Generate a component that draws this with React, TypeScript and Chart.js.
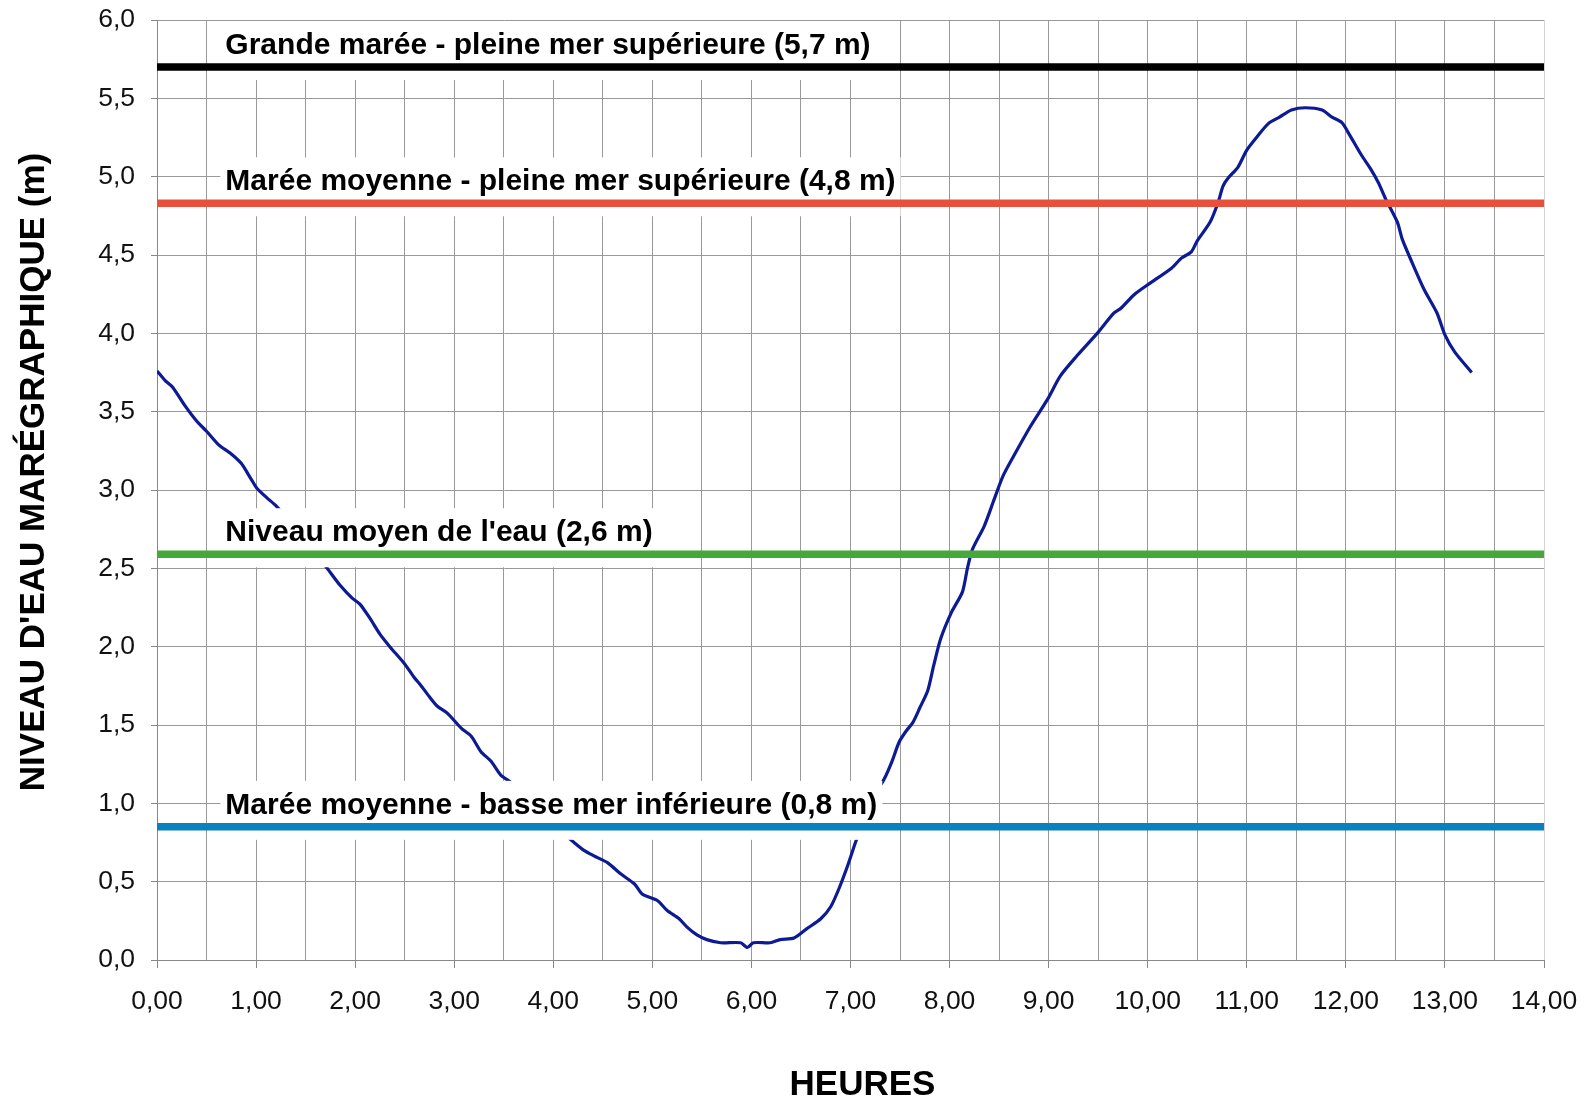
import React, { useEffect, useRef } from 'react';
import { Chart, registerables } from 'chart.js';

Chart.register(...registerables);

// ---- Data ----
const hours = [
  0.0, 0.08, 0.16, 0.28, 0.4, 0.5, 0.62, 0.75, 0.85, 0.95, 1.01, 1.11, 1.2, 1.3, 1.4, 1.5, 1.6,
  1.73, 1.85, 1.97, 2.05, 2.15, 2.25, 2.35, 2.5, 2.6, 2.66, 2.75, 2.83, 2.93, 3.07, 3.17, 3.27,
  3.37, 3.47, 3.57, 3.7, 3.8, 3.9, 4.0, 4.1, 4.21, 4.31, 4.41, 4.55, 4.68, 4.82, 4.9, 5.05,
  5.15, 5.27, 5.35, 5.45, 5.55, 5.69, 5.89, 5.96, 6.02, 6.19, 6.29, 6.43, 6.56, 6.7, 6.8, 6.88,
  6.97, 7.05, 7.15, 7.25, 7.34, 7.42, 7.49, 7.56, 7.63, 7.7, 7.78, 7.84, 7.91, 8.02, 8.13, 8.18,
  8.23, 8.35, 8.45, 8.54, 8.65, 8.82, 8.99, 9.12, 9.29, 9.49, 9.66, 9.73, 9.86, 10.0, 10.24, 10.34,
  10.44, 10.5, 10.63, 10.71, 10.76, 10.81, 10.91, 11.0, 11.11, 11.22, 11.33, 11.45, 11.59, 11.76,
  11.86, 11.96, 12.03, 12.16, 12.25, 12.33, 12.4, 12.52, 12.57, 12.67, 12.79, 12.92, 13.0, 13.1,
  13.27,
];
const waterLevel = [
  3.76, 3.7, 3.655, 3.54, 3.44, 3.375, 3.29, 3.23, 3.17, 3.07, 3.01, 2.95, 2.9, 2.83, 2.76, 2.68, 2.6,
  2.49, 2.39, 2.31, 2.27, 2.18, 2.08, 2.0, 1.89, 1.8, 1.756, 1.68, 1.62, 1.576, 1.48, 1.43, 1.33,
  1.27, 1.18, 1.135, 1.06, 1.0, 0.94, 0.87, 0.81, 0.75, 0.7, 0.665, 0.62, 0.55, 0.485, 0.42, 0.38,
  0.316, 0.263, 0.21, 0.16, 0.13, 0.11, 0.11, 0.08, 0.11, 0.11, 0.13, 0.14, 0.2, 0.263, 0.34, 0.45,
  0.6, 0.75, 0.92, 1.06, 1.155, 1.27, 1.39, 1.46, 1.517, 1.61, 1.72, 1.88, 2.05, 2.22, 2.35, 2.5,
  2.62, 2.77, 2.94, 3.09, 3.22, 3.41, 3.58, 3.73, 3.86, 4.0, 4.13, 4.16, 4.245, 4.31, 4.416, 4.48,
  4.52, 4.59, 4.71, 4.835, 4.94, 4.99, 5.06, 5.17, 5.26, 5.34, 5.38, 5.425, 5.44, 5.425,
  5.38, 5.345, 5.275, 5.135, 5.05, 4.96, 4.86, 4.71, 4.6, 4.45, 4.28, 4.13, 3.99, 3.88,
  3.75,
];
const refLevels = [5.7, 4.83, 2.59, 0.85];
const refLabels = [
  'Grande marée - pleine mer supérieure (5,7 m)',
  'Marée moyenne - pleine mer supérieure (4,8 m)',
  "Niveau moyen de l'eau (2,6 m)",
  'Marée moyenne - basse mer inférieure (0,8 m)',
];
const yTitle = "NIVEAU D'EAU MARÉGRAPHIQUE (m)";
const xTitle = 'HEURES';
const X_MIN = 0;
const X_MAX = 14;
const Y_MIN = 0;
const Y_MAX = 6;

// ---- Styles ----
const FONT = '"Liberation Sans", Arial, Helvetica, sans-serif';
const refColors = ['#000000', '#e8503c', '#46a83a', '#0a80c0'];
const curveColor = '#0c1a94';
const LABEL_X_HOURS = 0.69;
const LABEL_FONT = `bold 30px ${FONT}`;

const refLabelPlugin = {
  id: 'refLabelPlugin',
  afterDatasetDraw(chart: any, args: any) {
    if (args.index !== 0) return;
    const ctx = chart.ctx;
    const xs = chart.scales.x;
    const ys = chart.scales.y;
    ctx.save();
    ctx.font = LABEL_FONT;
    ctx.fillStyle = '#ffffff';
    refLevels.forEach((lv, i) => {
      const py = ys.getPixelForValue(lv);
      const left = xs.getPixelForValue(LABEL_X_HOURS) - 5;
      const w = ctx.measureText(refLabels[i]).width;
      ctx.fillRect(left, py - 46, w + 10, 59);
    });
    ctx.restore();
  },
  afterDatasetsDraw(chart: any) {
    const ctx = chart.ctx;
    const xs = chart.scales.x;
    const ys = chart.scales.y;
    ctx.save();
    ctx.font = LABEL_FONT;
    ctx.fillStyle = '#000000';
    ctx.textAlign = 'left';
    ctx.textBaseline = 'middle';
    refLevels.forEach((lv, i) => {
      const py = ys.getPixelForValue(lv);
      const left = xs.getPixelForValue(LABEL_X_HOURS);
      ctx.fillText(refLabels[i], left, py - 21.5);
    });
    ctx.restore();
  },
  afterDraw(chart: any) {
    const ctx = chart.ctx;
    const area = chart.chartArea;
    ctx.save();
    ctx.font = `bold 35px ${FONT}`;
    ctx.fillStyle = '#000000';
    ctx.textAlign = 'center';
    ctx.textBaseline = 'middle';
    ctx.fillText(xTitle, (area.left + area.right) / 2 + 12, 1085);
    ctx.translate(34, (area.top + area.bottom) / 2 - 18);
    ctx.rotate(-Math.PI / 2);
    ctx.fillText(yTitle, 0, 0);
    ctx.restore();
  },
};

export default function App() {
  const canvasRef = useRef<HTMLCanvasElement | null>(null);

  useEffect(() => {
    const canvas = canvasRef.current;
    if (!canvas) return;
    const curve = hours.map((h, i) => ({ x: h, y: waterLevel[i] }));
    const refSets = refLevels.map((lv, i) => ({
      label: refLabels[i],
      data: [
        { x: X_MIN, y: lv },
        { x: X_MAX, y: lv },
      ],
      borderColor: refColors[i],
      backgroundColor: refColors[i],
      borderWidth: 7.5,
      borderCapStyle: 'butt' as const,
      pointRadius: 0,
      tension: 0,
      order: 1,
    }));
    const chart = new Chart(canvas, {
      type: 'line',
      data: {
        datasets: [
          {
            label: 'Niveau',
            data: curve,
            borderColor: curveColor,
            backgroundColor: curveColor,
            borderWidth: 3.2,
            pointRadius: 0,
            tension: 0.25,
            order: 10,
          },
          ...refSets,
        ],
      },
      options: {
        animation: false,
        responsive: true,
        maintainAspectRatio: false,
        devicePixelRatio: 1,
        layout: { padding: { left: 0, top: 20, right: 47, bottom: 0 } },
        plugins: { legend: { display: false }, tooltip: { enabled: false } },
        scales: {
          x: {
            type: 'linear',
            min: X_MIN,
            max: X_MAX,
            afterFit: (s: any) => {
              s.height = 140;
              s.paddingLeft = 0;
              s.paddingRight = 0;
            },
            ticks: {
              stepSize: 0.5,
              autoSkip: false,
              maxRotation: 0,
              padding: 18,
              color: '#111111',
              font: { size: 26.5, family: FONT },
              callback: (v: any) => (Number.isInteger(Number(v)) ? Number(v).toFixed(2).replace('.', ',') : ''),
            },
            grid: {
              color: (c: any) => (c.tick && c.tick.value === X_MAX ? '#d4d4d4' : '#999999'),
              lineWidth: 1,
              tickLength: 8,
              tickColor: (c: any) => (c.tick && Number.isInteger(c.tick.value) ? '#888888' : 'rgba(0,0,0,0)'),
            },
            border: { display: true, color: '#888888' },
          },
          y: {
            type: 'linear',
            min: Y_MIN,
            max: Y_MAX,
            afterFit: (s: any) => {
              s.width = 157;
              s.paddingTop = 0;
              s.paddingBottom = 0;
            },
            ticks: {
              stepSize: 0.5,
              padding: 16,
              color: '#111111',
              font: { size: 26.5, family: FONT },
              callback: (v: any) => Number(v).toFixed(1).replace('.', ','),
            },
            grid: {
              color: '#999999',
              lineWidth: 1,
              tickLength: 6,
              tickColor: '#888888',
            },
            border: { display: true, color: '#888888' },
          },
        },
      },
      plugins: [refLabelPlugin],
    });
    return () => chart.destroy();
  }, []);

  return (
    <div style={{ position: 'fixed', left: 0, top: 0, width: 1591, height: 1100, background: '#ffffff' }}>
      <canvas ref={canvasRef} />
    </div>
  );
}
